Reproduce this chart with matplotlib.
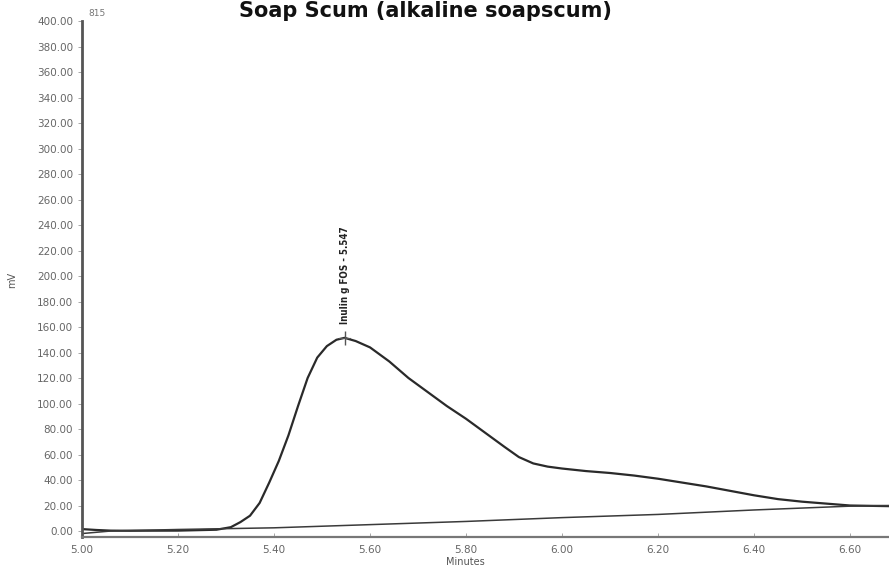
import matplotlib.pyplot as plt

# chromatogram trace (minutes, mV)
t = [5.00, 5.03, 5.06, 5.10, 5.20, 5.28, 5.31, 5.33, 5.35, 5.37, 5.39, 5.41,
     5.43, 5.45, 5.47, 5.49, 5.51, 5.53, 5.547, 5.57, 5.60, 5.64, 5.68, 5.72,
     5.76, 5.80, 5.84, 5.88, 5.91, 5.94, 5.97, 6.00, 6.05, 6.10, 6.15, 6.20,
     6.25, 6.30, 6.35, 6.40, 6.45, 6.50, 6.55, 6.60, 6.68]
mv = [1.5, 0.8, 0.3, 0.2, 0.3, 1.0, 3.0, 7.0, 12.0, 22.0, 38.0, 55.0,
      75.0, 98.0, 120.0, 136.0, 145.0, 150.0, 151.5, 149.0, 144.0, 133.0, 120.0, 109.0,
      98.0, 88.0, 77.0, 66.0, 58.0, 53.0, 50.5, 49.0, 47.0, 45.5, 43.5, 41.0,
      38.0, 35.0, 31.5, 28.0, 25.0, 23.0, 21.5, 20.0, 19.5]

# integration baseline
base_t = [5.00, 5.06, 5.20, 5.40, 5.60, 5.80, 6.00, 6.20, 6.40, 6.60, 6.68]
base_mv = [-2.0, 0.0, 1.2, 2.5, 5.0, 7.5, 10.5, 13.0, 16.5, 19.5, 20.0]

peak_t = 5.547
peak_mv = 151.5
peak_label = "Inulin g FOS - 5.547"

yticks = list(range(0, 401, 20))
xticks = [5.00, 5.20, 5.40, 5.60, 5.80, 6.00, 6.20, 6.40, 6.60]

fig = plt.figure(figsize=(8.89, 5.68), dpi=100)
ax = fig.add_axes([82 / 889, 31 / 568, 1 - 82 / 889, (537 - 21) / 568])

ax.plot(t, mv, color='#2a2a2a', lw=1.6)
ax.plot(base_t, base_mv, color='#3a3a3a', lw=1.1)

# peak marker and retention time label
ax.plot([peak_t], [peak_mv], marker='|', ms=10, color='#555555', mew=1.0)
ax.plot([peak_t - 0.012, peak_t + 0.012], [peak_mv, peak_mv], color='#555555', lw=0.8)
ax.text(peak_t, peak_mv + 11, peak_label, rotation=90, ha='center', va='bottom',
        fontsize=7, color='#222222', fontweight='bold', fontstretch='condensed')

ax.set_xlim(5.0, 6.681)
ax.set_ylim(-4.7, 400)
ax.set_yticks(yticks)
ax.set_yticklabels([f"{v:.2f}" for v in yticks])
ax.set_xticks(xticks)
ax.set_xticklabels([f"{v:.2f}" for v in xticks])
ax.tick_params(axis='both', labelsize=7.5, labelcolor='#666666', color='#999999',
               length=3, width=0.6)
ax.tick_params(axis='x', direction='in', pad=6)

for side in ['top', 'right']:
    ax.spines[side].set_visible(False)
ax.spines['left'].set_color('#555555')
ax.spines['left'].set_linewidth(2.0)
ax.spines['bottom'].set_color('#777777')
ax.spines['bottom'].set_linewidth(1.6)

fig.text(12 / 889, 1 - 280 / 568, 'mV', rotation=90, ha='center', va='center',
         fontsize=7, color='#555555')
fig.text(465 / 889, 1 - 562 / 568, 'Minutes', ha='center', va='center',
         fontsize=7, color='#555555')
fig.text(88 / 889, 1 - 14 / 568, '815', ha='left', va='center',
         fontsize=6.5, color='#777777')
fig.text(0.478, 0.999, 'Soap Scum (alkaline soapscum)', ha='center', va='top',
         fontsize=15, fontweight='bold', color='#111111')

fig.savefig('out.png', dpi=100)
